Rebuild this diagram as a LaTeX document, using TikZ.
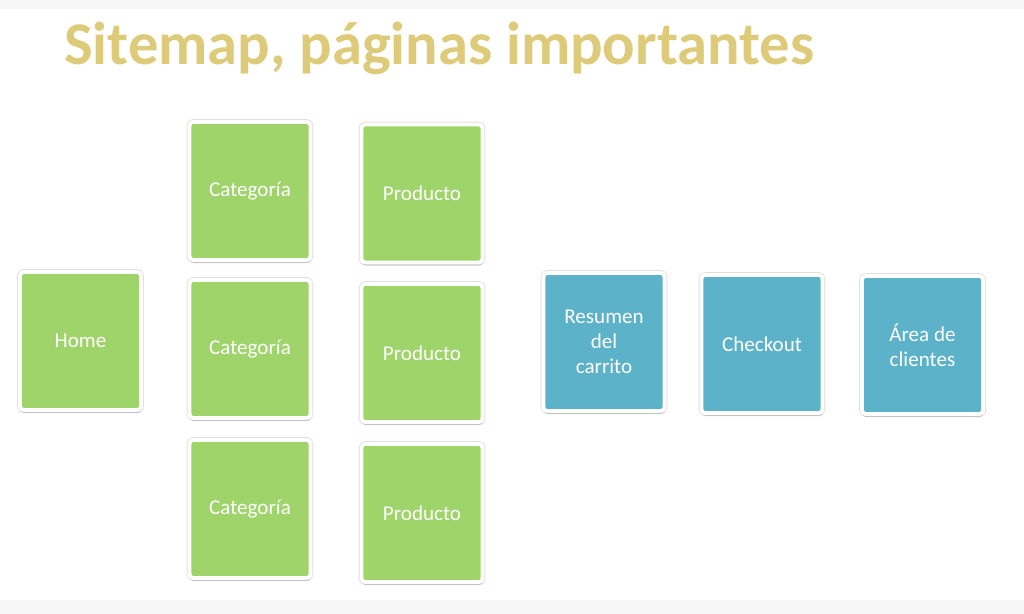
\documentclass[tikz,border=0pt]{standalone}
\usepackage{fontspec}
\setmainfont{Carlito}
\usepackage{xcolor}
\usetikzlibrary{shadows}
\definecolor{titlegold}{RGB}{222,203,122}
\definecolor{pagegreen}{RGB}{158,212,106}
\definecolor{pageblue}{RGB}{92,178,200}
\tikzset{
  page/.style={draw=white, line width=2.2pt, rounded corners=2pt, fill=pagegreen,
    minimum width=2.42cm, minimum height=2.76cm, text=white, align=center,
    font=\fontsize{12}{14.2}\selectfont,
    preaction={draw=black!12, line width=3.2pt},
    drop shadow={shadow xshift=0.3pt, shadow yshift=-1.8pt, opacity=0.3}},
  cart/.style={page, fill=pageblue}
}

\begin{document}
\begin{tikzpicture}[x=0.02cm, y=-0.02cm]
                \useasboundingbox (0,0) rectangle (1024,614);
                \fill[black!3] (0,0) rectangle (1024,9);
                \fill[black!3] (0,600) rectangle (1024,614);
                \draw (58,65) node[anchor=base west, text=titlegold, font=\fontsize{34.5}{38}\selectfont\bfseries] (title) {Sitemap, páginas importantes};
                \draw (80.5,341) node[page] (home) {Home};
                \draw (250,191) node[page] (cat1) {Categoría};
                \draw (250,349) node[page] (cat2) {Categoría};
                \draw (250,509) node[page] (cat3) {Categoría};
                \draw (422,193.5) node[page] (prod1) {Producto};
                \draw (422,353) node[page] (prod2) {Producto};
                \draw (422,513) node[page] (prod3) {Producto};
                \draw (604,342) node[cart] (resumen) {Resumen\\del\\carrito};
                \draw (762,344) node[cart] (checkout) {Checkout};
                \draw (922.5,345) node[cart] (area) {Área de\\clientes};
            \end{tikzpicture}
\end{document}
